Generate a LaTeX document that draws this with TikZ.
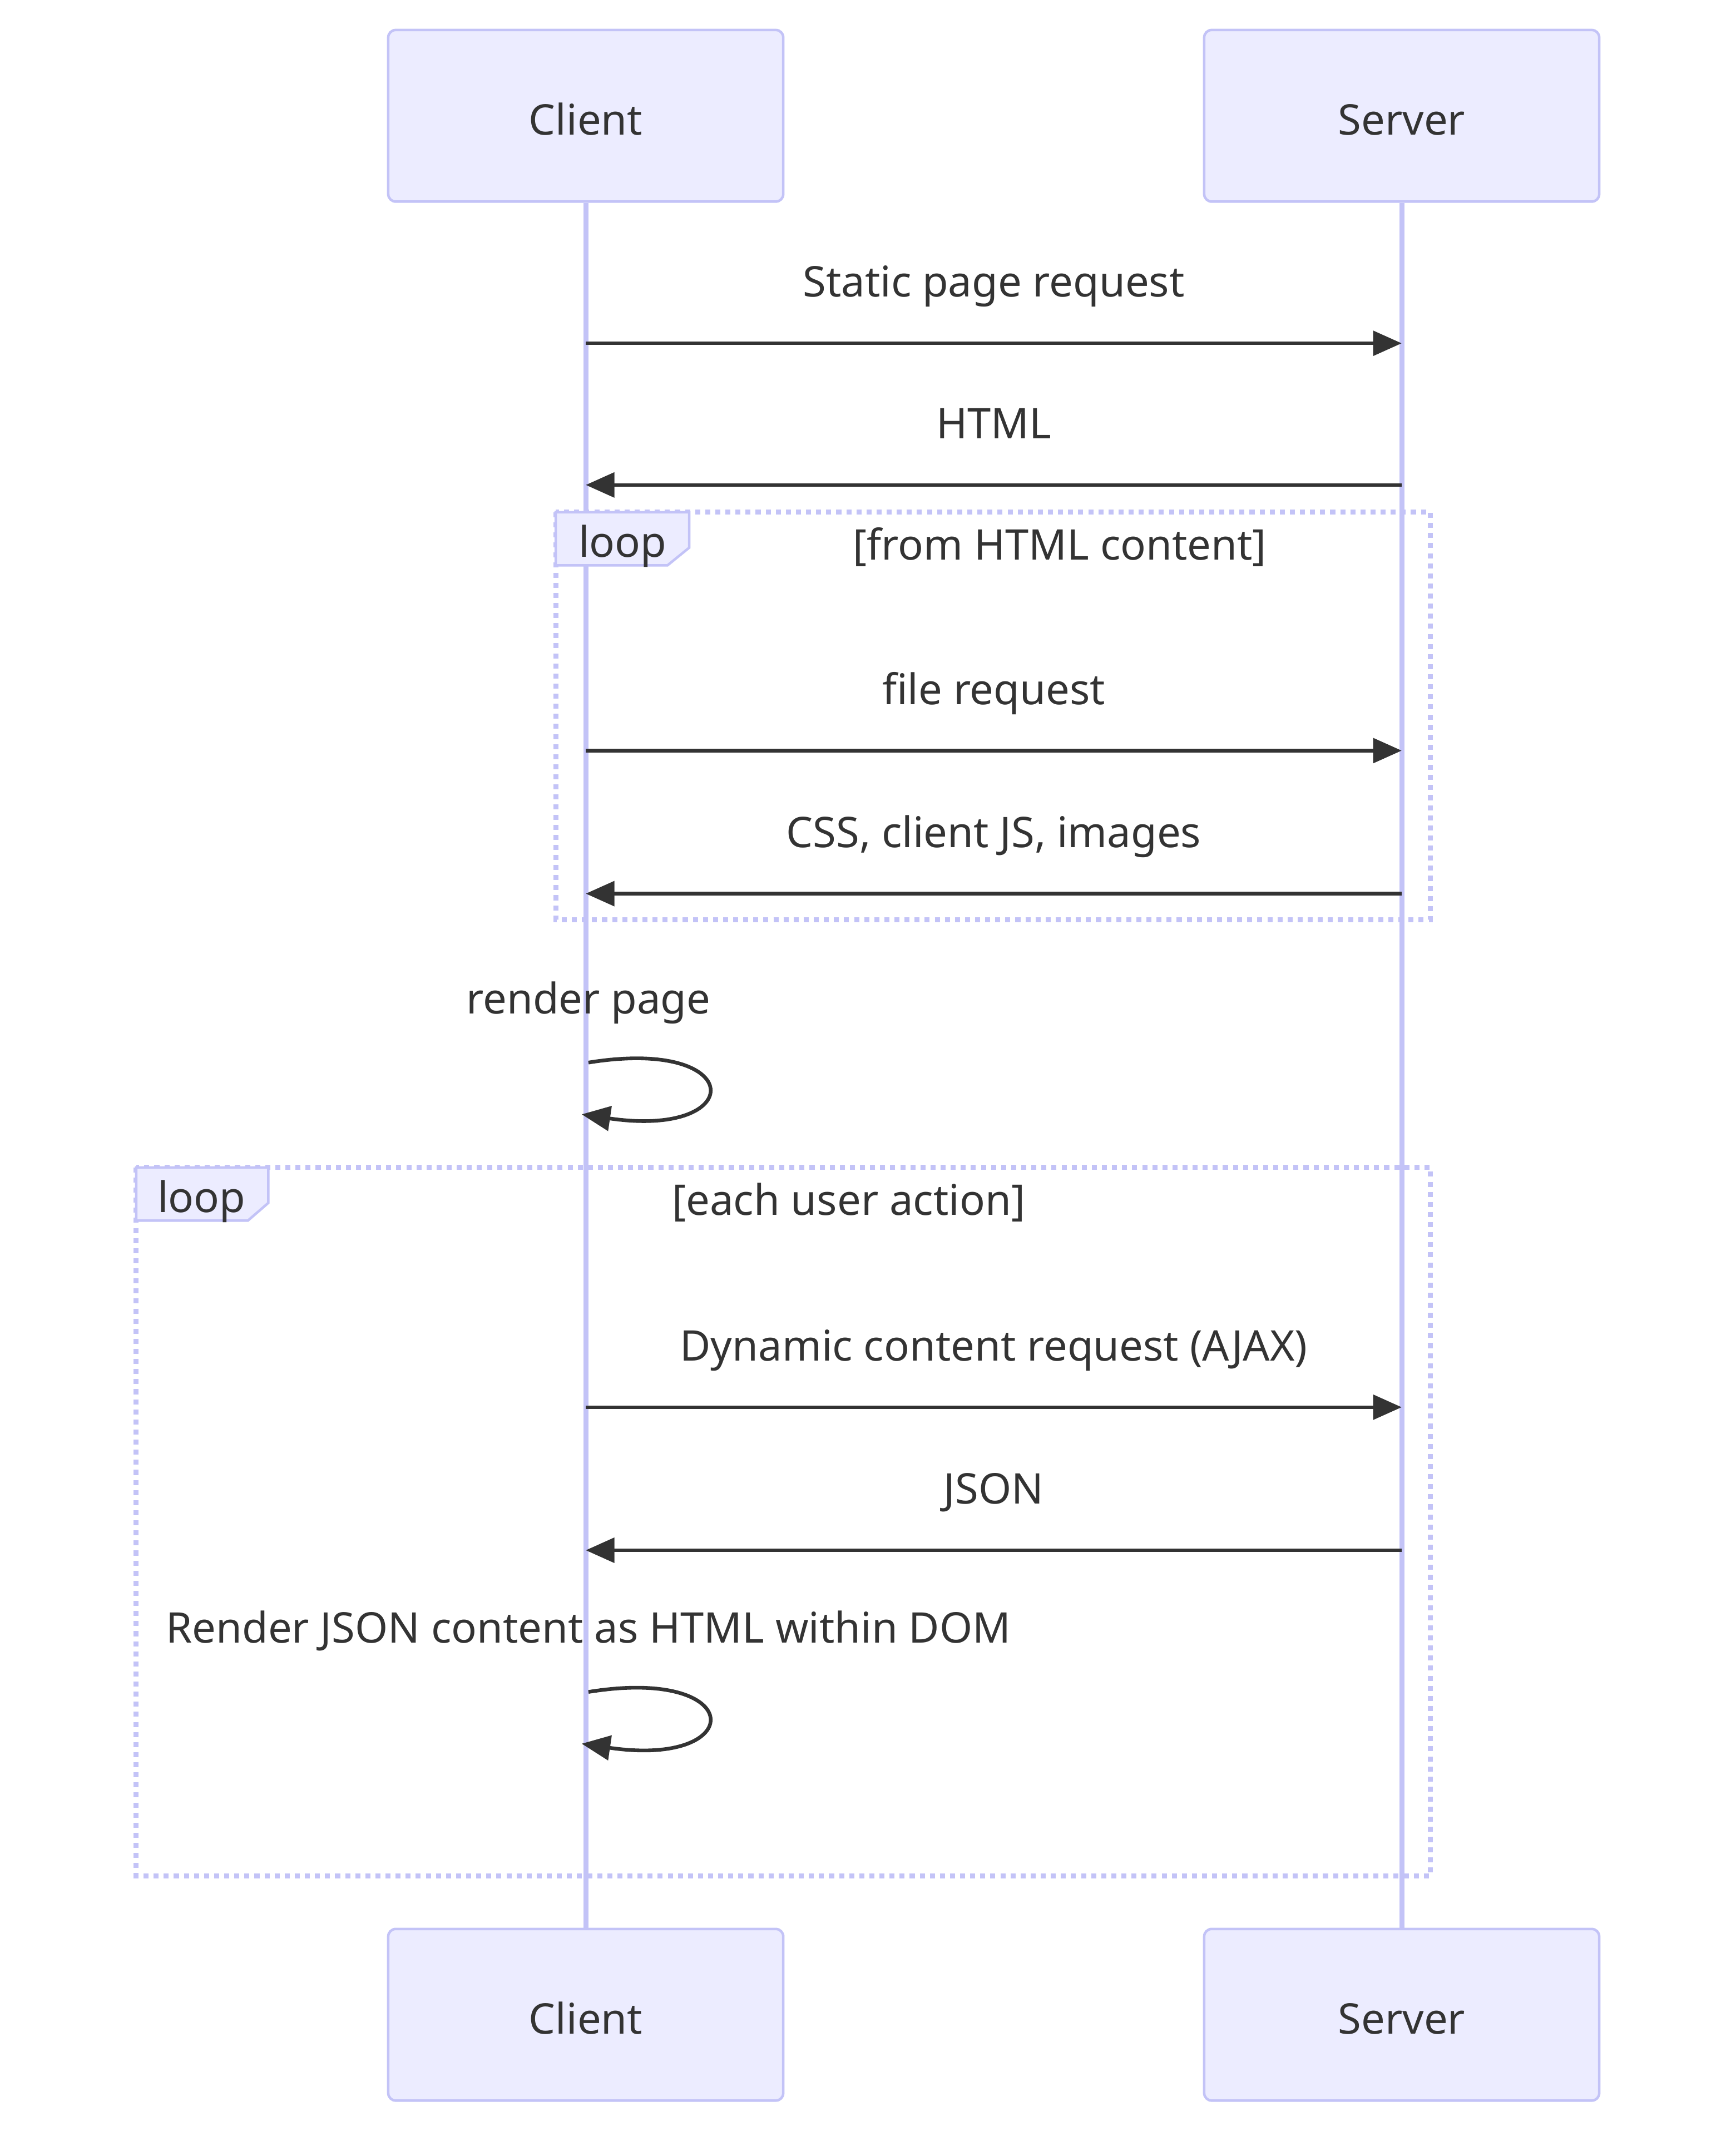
\documentclass[tikz,border=0pt]{standalone}
\usepackage{fontspec}
\setmainfont{Noto Sans}
\usetikzlibrary{arrows.meta,calc}

\definecolor{actorfill}{HTML}{ECECFF}
\definecolor{actorline}{HTML}{C3C3F7}
\definecolor{ink}{HTML}{333333}

\tikzset{
	actor/.style={draw=actorline,fill=actorfill,line width=1.85pt,rounded corners=5.5pt,
		minimum width=290pt,minimum height=126pt,inner sep=0pt,text=ink,
		text height=28pt,text depth=0pt},
	lifeline/.style={draw=actorline,line width=3.7pt},
	msg/.style={draw=ink,line width=2.7pt,-{Triangle[length=21pt,width=18pt]}},
	msgtext/.style={text=ink,anchor=base,inner sep=0pt},
	loopframe/.style={draw=actorline,line width=3.7pt,dash pattern=on 3.7pt off 3.7pt},
	looptab/.style={draw=actorline,fill=actorfill,line width=1.85pt},
}

\begin{document}
\begin{tikzpicture}[x=1pt,y=-1pt,font=\fontsize{31}{37}\selectfont]
		\useasboundingbox (0,0) rectangle (1274,1568);
		
		% participants
		\node[actor] (c1) at (430,85) {Client};
		\node[actor] (s1) at (1029,85) {Server};
		\node[actor] (c2) at (430,1479) {Client};
		\node[actor] (s2) at (1029,1479) {Server};
		\draw[lifeline] (c1) -- (c2);
		\draw[lifeline] (s1) -- (s2);
		
		% message rows
		\foreach \n/\y in {1/252,2/356,3/551,4/656,5/1033,6/1138}{
			\coordinate (c-\n) at (c1 |- 0,\y);
			\coordinate (s-\n) at (s1 |- 0,\y);
		}
		
		% first loop
		\draw[loopframe] (408,376) rectangle (1050,675);
		\draw[looptab] (408,376) -- (506,376) -- (506,402) -- (490,415) -- (408,415) -- cycle;
		\node[msgtext] (loop1) at (457,409) {loop};
		\node[msgtext] (cond1) at (778,411) {[from HTML content]};
		
		% second loop
		\draw[loopframe] (100,857) rectangle (1050,1377);
		\draw[looptab] (100,857) -- (197,857) -- (197,883) -- (182,896) -- (100,896) -- cycle;
		\node[msgtext] (loop2) at (148,890) {loop};
		\node[msgtext] (cond2) at (623,892) {[each user action]};
		
		\draw[msg] (c-1) -- node[msgtext,yshift=34pt] (t1) {Static page request} (s-1);
		\draw[msg] (s-2) -- node[msgtext,yshift=34pt] (t2) {HTML} (c-2);
		\draw[msg] (c-3) -- node[msgtext,yshift=34pt] (t3) {file request} (s-3);
		\draw[msg] (s-4) -- node[msgtext,yshift=34pt] (t4) {CSS, client JS, images} (c-4);
		\draw[msg] (c-5) -- node[msgtext,yshift=34pt] (t5) {Dynamic content request (AJAX)} (s-5);
		\draw[msg] (s-6) -- node[msgtext,yshift=34pt] (t6) {JSON} (c-6);
		
		% self messages
		\coordinate (r1a) at ($(c1 |- 0,780)+(2,0)$);
		\coordinate (r1b) at ($(c1 |- 0,818)+(-3,0)$);
		\node[msgtext] (t7) at (432,744) {render page};
		\draw[msg] (r1a) .. controls +(117,-19) and +(122,18) .. (r1b);
		
		\coordinate (r2a) at ($(c1 |- 0,1242)+(2,0)$);
		\coordinate (r2b) at ($(c1 |- 0,1280)+(-3,0)$);
		\node[msgtext] (t8) at (432,1206) {Render JSON content as HTML within DOM};
		\draw[msg] (r2a) .. controls +(117,-19) and +(122,18) .. (r2b);
	\end{tikzpicture}
\end{document}
